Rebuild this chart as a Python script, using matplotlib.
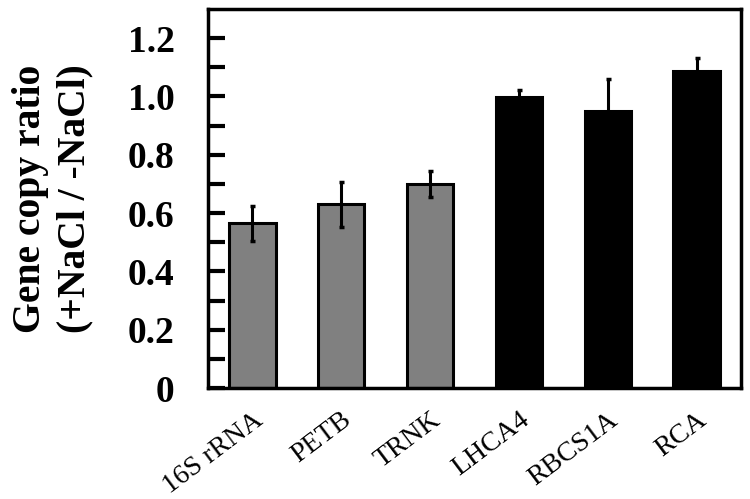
import matplotlib
matplotlib.use("Agg")
import matplotlib.pyplot as plt
import numpy as np

categories = ["16S rRNA", "PETB", "TRNK", "LHCA4", "RBCS1A", "RCA"]
values = [0.565, 0.630, 0.700, 0.998, 0.950, 1.087]
errors = [0.060, 0.077, 0.045, 0.024, 0.110, 0.045]
colors = ["#808080", "#808080", "#808080", "#000000", "#000000", "#000000"]
ytick_vals = [0, 0.2, 0.4, 0.6, 0.8, 1.0, 1.2]
ytick_labels = ["0", "0.2", "0.4", "0.6", "0.8", "1.0", "1.2"]

plt.rcParams['font.family'] = ['Liberation Serif', 'DejaVu Serif']

fig = plt.figure(figsize=(7.5, 4.99), dpi=100)
ax = fig.add_axes([208/750, 1-388/499, (741-208)/750, (388-9)/499])

x = np.arange(len(categories))
ax.bar(x, values, width=0.52, color=colors, edgecolor="black", linewidth=2.2, zorder=2)
ax.errorbar(x, values, yerr=errors, fmt="none", ecolor="black", elinewidth=2.2,
            capsize=1.8, capthick=2.5, zorder=3)

ax.set_xlim(-0.5, len(categories) - 0.5)
ax.set_ylim(0, 1.3)
ax.set_yticks(ytick_vals)
ax.set_yticklabels(ytick_labels, fontsize=27, fontweight="bold")
ax.set_yticks(np.arange(0.1, 1.3, 0.2), minor=True)
ax.tick_params(axis="y", which="both", direction="in", length=12, width=3, pad=24)
ax.tick_params(axis="x", length=0, pad=14)
ax.set_xticks(x)
ax.set_xticklabels(categories, fontsize=20, rotation=37, ha="right", rotation_mode="anchor")
for lbl in ax.get_xticklabels():
    lbl.set_x(lbl.get_position()[0])

for sp in ax.spines.values():
    sp.set_linewidth(2.5)

ax.set_ylabel("Gene copy ratio\n(+NaCl / -NaCl)", fontsize=28.5, fontweight="bold", labelpad=25,
              linespacing=1.25)

fig.savefig("out.png", dpi=100)
